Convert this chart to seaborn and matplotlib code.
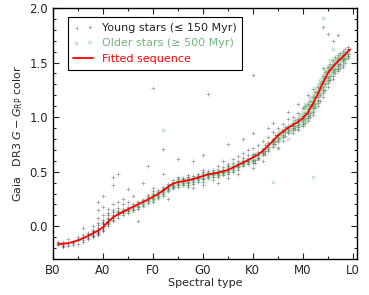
import numpy as np
import pandas as pd
import matplotlib
matplotlib.use("Agg")
import matplotlib.pyplot as plt
import seaborn as sns

# spectral type index: B0=0, A0=10, F0=20, G0=30, K0=40, M0=50, L0=60
tick_pos = [0, 10, 20, 30, 40, 50, 60]
tick_lab = ["B0", "A0", "F0", "G0", "K0", "M0", "L0"]

# young stars (<= 150 Myr): colours per spectral subtype
young_spt = list(range(1, 60))
young_color = [
    [-0.17, -0.15, -0.14],
    [-0.19, -0.17, -0.14, -0.18],
    [-0.18, -0.16, -0.12],
    [-0.17, -0.14, -0.15],
    [-0.16, -0.12, -0.13, -0.10],
    [-0.13, -0.10, -0.08, -0.14, -0.02],
    [-0.12, -0.09, -0.06, -0.11, -0.07],
    [-0.09, -0.06, -0.04, -0.08, -0.03, -0.05, 0.00, -0.10],
    [-0.08, -0.05, -0.03, -0.02, -0.06, 0.01, -0.04, 0.03, 0.08, -0.07, 0.15, 0.22],
    [-0.04, -0.02, 0.00, 0.02, 0.04, -0.01, 0.06, 0.03, 0.10, -0.03, 0.18, 0.28],
    [0.00, 0.03, 0.05, 0.07, 0.10, 0.02, 0.12, 0.04, 0.16, 0.08],
    [0.05, 0.08, 0.10, 0.13, 0.06, 0.15, 0.20, 0.09, 0.38, 0.45],
    [0.08, 0.11, 0.14, 0.17, 0.10, 0.22, 0.13, 0.48],
    [0.10, 0.13, 0.16, 0.20, 0.12, 0.25],
    [0.12, 0.15, 0.18, 0.14, 0.22, 0.34],
    [0.15, 0.18, 0.16, 0.20, 0.28],
    [0.16, 0.19, 0.22, 0.18, 0.05],
    [0.19, 0.22, 0.24, 0.20, 0.40],
    [0.21, 0.24, 0.27, 0.23, 0.29, 0.55],
    [0.22, 0.25, 0.28, 0.30, 0.26, 0.32, 0.35, 1.27],
    [0.26, 0.29, 0.31, 0.28, 0.33],
    [0.28, 0.31, 0.34, 0.36, 0.30, 0.33, 0.48, 0.71],
    [0.32, 0.35, 0.37, 0.34, 0.39, 0.25],
    [0.35, 0.38, 0.40, 0.42, 0.37, 0.36],
    [0.36, 0.39, 0.41, 0.43, 0.38, 0.45, 0.62],
    [0.38, 0.41, 0.43, 0.40, 0.44],
    [0.38, 0.41, 0.43, 0.45, 0.40, 0.36, 0.47],
    [0.39, 0.42, 0.44, 0.46, 0.41, 0.35, 0.60],
    [0.41, 0.44, 0.46, 0.43, 0.48],
    [0.41, 0.44, 0.46, 0.48, 0.43, 0.50, 0.52, 0.38, 0.65],
    [0.44, 0.47, 0.49, 0.46, 0.51, 1.21],
    [0.45, 0.48, 0.50, 0.47, 0.52, 0.42],
    [0.45, 0.48, 0.50, 0.52, 0.47, 0.55, 0.40],
    [0.47, 0.50, 0.52, 0.49, 0.54, 0.60],
    [0.48, 0.51, 0.53, 0.55, 0.50, 0.57, 0.44, 0.75],
    [0.50, 0.53, 0.55, 0.58, 0.52, 0.62],
    [0.52, 0.55, 0.57, 0.60, 0.54, 0.64, 0.48],
    [0.55, 0.58, 0.60, 0.63, 0.57, 0.67, 0.80],
    [0.57, 0.60, 0.62, 0.65, 0.59, 0.70],
    [0.58, 0.61, 0.64, 0.66, 0.60, 0.72, 0.53, 0.85, 1.39],
    [0.62, 0.65, 0.68, 0.63, 0.74],
    [0.65, 0.68, 0.71, 0.67, 0.78, 0.60],
    [0.69, 0.73, 0.76, 0.71, 0.82, 0.90],
    [0.73, 0.77, 0.80, 0.75, 0.86, 0.95],
    [0.77, 0.81, 0.84, 0.79, 0.90, 0.72],
    [0.82, 0.86, 0.88, 0.84, 0.94, 0.78],
    [0.85, 0.89, 0.92, 0.87, 0.98, 1.05],
    [0.88, 0.92, 0.95, 0.90, 1.00, 0.85],
    [0.91, 0.95, 0.98, 0.93, 1.04, 0.88, 1.12],
    [0.94, 0.98, 1.01, 0.96, 1.08, 0.92],
    [0.99, 1.03, 1.07, 1.01, 1.12, 0.96, 1.20],
    [1.05, 1.10, 1.14, 1.08, 1.18, 1.02, 1.26],
    [1.13, 1.18, 1.23, 1.16, 1.28, 1.10],
    [1.22, 1.28, 1.33, 1.25, 1.38, 1.18, 1.45, 1.83],
    [1.31, 1.37, 1.42, 1.34, 1.46, 1.28, 1.76],
    [1.38, 1.43, 1.48, 1.41, 1.52, 1.35, 1.70],
    [1.44, 1.49, 1.53, 1.47, 1.57, 1.42, 1.75],
    [1.48, 1.53, 1.57, 1.51, 1.61, 1.46],
    [1.54, 1.58, 1.62, 1.56, 1.64],
]

# young stars at half subtypes (K and M)
young_half_spt = [40.5, 42.5, 44.5, 46.5, 48.5, 50.5, 51.5, 52.5, 53.5, 54.5, 55.5, 56.5, 57.5, 58.5]
young_half_color = [
    [0.61, 0.66, 0.58],
    [0.69, 0.74, 0.66],
    [0.78, 0.84, 0.75],
    [0.86, 0.91, 0.83],
    [0.92, 0.97, 0.89],
    [0.99, 1.04, 0.95, 1.10],
    [1.04, 1.10, 1.00, 1.15],
    [1.12, 1.18, 1.08, 1.23],
    [1.20, 1.26, 1.15, 1.31],
    [1.30, 1.36, 1.25, 1.41],
    [1.38, 1.44, 1.34, 1.49],
    [1.44, 1.50, 1.40, 1.55],
    [1.49, 1.54, 1.45, 1.59],
    [1.53, 1.58, 1.50, 1.62],
]

# older stars (>= 500 Myr)
old_spt = list(range(13, 60))
old_color = [
    [0.12],
    [0.14],
    [0.16, 0.13],
    [0.18, 0.14],
    [0.20, 0.22, 0.17],
    [0.21, 0.24, 0.19],
    [0.24, 0.22, 0.27],
    [0.25, 0.27, 0.23, 0.30],
    [0.28, 0.31, 0.26],
    [0.31, 0.34, 0.29, 0.33, 0.88],
    [0.34, 0.37, 0.32],
    [0.37, 0.40, 0.35, 0.39],
    [0.39, 0.41, 0.37, 0.43],
    [0.40, 0.42, 0.38],
    [0.41, 0.44, 0.39, 0.43],
    [0.42, 0.45, 0.40],
    [0.43, 0.46, 0.42, 0.45],
    [0.45, 0.48, 0.43],
    [0.46, 0.49, 0.44, 0.48],
    [0.47, 0.50, 0.46],
    [0.48, 0.51, 0.47, 0.50],
    [0.49, 0.52, 0.48],
    [0.51, 0.54, 0.49, 0.53],
    [0.53, 0.56, 0.51],
    [0.55, 0.58, 0.53, 0.57],
    [0.57, 0.60, 0.56, 0.59],
    [0.59, 0.62, 0.58, 0.61],
    [0.62, 0.65, 0.60, 0.64],
    [0.64, 0.67, 0.62, 0.66],
    [0.68, 0.71, 0.66, 0.70],
    [0.72, 0.76, 0.70, 0.74],
    [0.77, 0.80, 0.74, 0.78, 0.41],
    [0.81, 0.85, 0.79, 0.83, 0.72],
    [0.85, 0.88, 0.83, 0.87],
    [0.88, 0.91, 0.86, 0.90, 0.80],
    [0.91, 0.94, 0.89, 0.93, 0.96],
    [0.94, 0.97, 0.92, 0.96, 0.99, 0.90],
    [0.98, 1.02, 0.96, 1.00, 1.05, 0.94, 1.08],
    [1.03, 1.07, 1.00, 1.05, 1.10, 0.98, 1.13],
    [1.10, 1.14, 1.07, 1.12, 1.17, 1.05, 1.20, 0.45],
    [1.19, 1.23, 1.16, 1.21, 1.26, 1.14, 1.29],
    [1.28, 1.33, 1.25, 1.31, 1.36, 1.23, 1.39, 1.91],
    [1.37, 1.42, 1.34, 1.40, 1.45, 1.32, 1.47],
    [1.44, 1.48, 1.41, 1.46, 1.51, 1.39, 1.62],
    [1.49, 1.53, 1.46, 1.51, 1.55, 1.44],
    [1.53, 1.57, 1.51, 1.55, 1.59],
    [1.57, 1.60, 1.55],
]

# older stars at half subtypes (mostly M dwarfs)
old_half_spt = [45.5, 47.5, 49.5, 50.5, 51.5, 52.5, 53.5, 54.5, 55.5, 56.5, 57.5, 58.5]
old_half_color = [
    [0.83, 0.87, 0.80],
    [0.89, 0.93, 0.86],
    [0.96, 1.00, 0.93, 1.03],
    [1.00, 1.04, 0.97, 1.08, 1.12],
    [1.06, 1.11, 1.03, 1.15, 1.18],
    [1.14, 1.19, 1.10, 1.23, 1.27],
    [1.23, 1.28, 1.20, 1.32, 1.35],
    [1.32, 1.37, 1.29, 1.41, 1.44],
    [1.40, 1.45, 1.37, 1.48, 1.52],
    [1.46, 1.50, 1.43, 1.53],
    [1.51, 1.55, 1.48, 1.58],
    [1.55, 1.59, 1.53],
]

# fitted sequence
fit_spt = [1, 3, 5, 7, 9, 10, 11, 12, 13, 15, 17, 19, 21, 22, 23, 24, 25, 27, 29, 31,
           33, 35, 37, 39, 41, 42, 43, 44, 45, 47, 49, 50, 51, 52, 53, 54, 55, 56, 57, 58, 59, 59.5]
fit_color = [-0.165, -0.155, -0.13, -0.09, -0.04, -0.01, 0.04, 0.08, 0.11, 0.155, 0.20, 0.245,
             0.295, 0.325, 0.36, 0.39, 0.405, 0.42, 0.445, 0.475, 0.49, 0.515, 0.56, 0.605,
             0.655, 0.69, 0.735, 0.78, 0.83, 0.90, 0.955, 0.99, 1.04, 1.12, 1.21, 1.31,
             1.40, 1.46, 1.51, 1.55, 1.60, 1.62]


def flatten(spts, colors):
    return pd.DataFrame({
        "spt": [s for s, ys in zip(spts, colors) for _ in ys],
        "color": [y for ys in colors for y in ys],
    })


young = pd.concat([flatten(young_spt, young_color), flatten(young_half_spt, young_half_color)])
old = pd.concat([flatten(old_spt, old_color), flatten(old_half_spt, old_half_color)])

sns.set_style("ticks")
plt.rcParams["font.family"] = ["DejaVu Sans"]
plt.rcParams["xtick.direction"] = "in"
plt.rcParams["ytick.direction"] = "in"

fig = plt.figure(figsize=(3.69, 2.95), dpi=100)
ax = fig.add_axes([0.1436, 0.122, 0.823, 0.851])

sns.scatterplot(data=young, x="spt", y="color", ax=ax, marker="+", s=6, color="black",
                alpha=0.4, linewidth=0.5, label="Young stars (≤ 150 Myr)")
sns.scatterplot(data=old, x="spt", y="color", ax=ax, marker="x", s=6, color="#5cb56b",
                alpha=0.45, linewidth=0.7, label="Older stars (≥ 500 Myr)")
sns.lineplot(x=fit_spt, y=fit_color, ax=ax, color="red", linewidth=1.3, label="Fitted sequence")

ax.set_xlim(0, 60.8)
ax.set_ylim(-0.3, 2.0)
ax.set_xticks(tick_pos)
ax.set_xticklabels(tick_lab)
ax.set_xticks(np.arange(5, 60, 10), minor=True)
ax.set_yticks([0.0, 0.5, 1.0, 1.5, 2.0])
ax.set_yticks(np.arange(-0.2, 2.0, 0.1), minor=True)
ax.tick_params(which="both", top=True, right=True, labelsize=8.5, width=0.8)
ax.tick_params(which="major", length=4)
ax.tick_params(which="minor", length=2)
for sp in ax.spines.values():
    sp.set_linewidth(1.0)
    sp.set_color("black")

ax.set_xlabel("Spectral type", fontsize=8, labelpad=1)
ax.set_ylabel("Gaia   DR3 $G - G_{\\rm RP}$ color", fontsize=8, labelpad=3)

leg = ax.legend(loc="upper left", fontsize=8, scatterpoints=2, fancybox=False,
                edgecolor="black", framealpha=1, borderpad=0.5, handlelength=1.8,
                bbox_to_anchor=(0.03, 0.985))
leg.get_frame().set_linewidth(0.8)
for txt, c in zip(leg.get_texts(), ["#222222", "#72b67c", "red"]):
    txt.set_color(c)

fig.savefig("out.png", dpi=100)
